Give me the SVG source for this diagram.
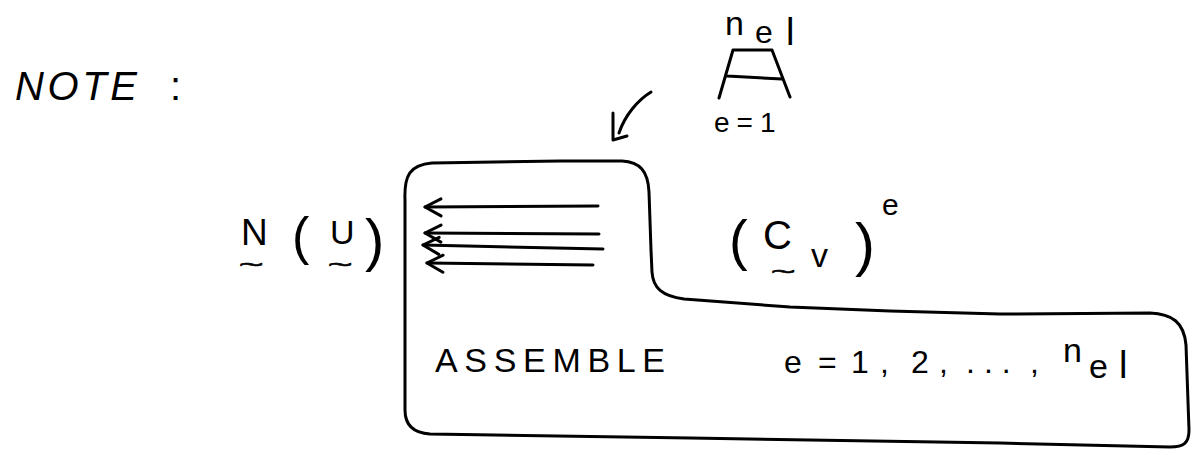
<svg xmlns="http://www.w3.org/2000/svg" width="1201" height="455" viewBox="0 0 1201 455">
<style>
.t{font-family:"Liberation Sans",Arial,sans-serif;fill:#000}
.tl{font-family:"Liberation Sans",Arial,sans-serif;fill:#000;font-size:22px;stroke:#000;stroke-width:0.7}
.ln{fill:none;stroke:#000;stroke-width:3;stroke-linecap:round;stroke-linejoin:round}
</style>
<defs>
<marker id="chev" viewBox="-20 -12 24 24" refX="0" refY="0" markerWidth="24" markerHeight="24" markerUnits="userSpaceOnUse" orient="auto">
<path d="M-16,-9 L0,0 L-16,8" fill="none" stroke="#000" stroke-width="3" stroke-linecap="round" stroke-linejoin="round"/>
</marker>
</defs>
<rect width="1201" height="455" fill="#fff"/>

<g id="note">
<text class="t" x="15" y="100" font-size="40" font-style="italic" textLength="122" lengthAdjust="spacing">NOTE</text>
<text class="t" x="170" y="100" font-size="40">:</text>
</g>

<g id="element-icon">
<text class="t" x="725" y="35" font-size="34">n</text>
<text class="t" x="755" y="43" font-size="32">e</text>
<text class="t" x="786" y="45" font-size="38">l</text>
<path class="ln" d="M733,50 L772,50 M733,50 L719,98 M772,50 L790,97 M727,76 L782,79"/>
<text class="t" x="714" y="132" font-size="28" letter-spacing="7">e=1</text>
</g>

<g id="N-of-U">
<text class="t" x="241" y="245" font-size="37">N</text>
<text class="tl" transform="translate(239,272) scale(1.9,1)">~</text>
<text class="t" x="330" y="244" font-size="34">U</text>
<text class="tl" transform="translate(328,272) scale(1.9,1)">~</text>
<text class="t" x="292" y="254" font-size="52">(</text>
<text class="t" x="365" y="260" font-size="58">)</text>
</g>

<g id="Cv-e">
<text class="t" x="729" y="259" font-size="56">(</text>
<text class="t" x="763" y="249" font-size="40">C</text>
<text class="tl" transform="translate(771,279) scale(1.9,1)">~</text>
<text class="t" x="811" y="267" font-size="34">v</text>
<text class="t" x="855" y="265" font-size="60">)</text>
<text class="t" x="882" y="215" font-size="30">e</text>
</g>

<g id="assemble-box">
<path class="ln" d="M405,200 C404,175 410,165 432,163 L560,161 L622,161 C640,162 648,171 649,192 L651,250 L652,272 C653,288 662,296 684,299 L790,307 L890,311 L1000,314 L1150,313 C1172,314 1184,322 1186,345 L1189,430 C1189,443 1184,447 1170,447 L1000,443 L690,438 L430,434 C413,433 405,425 405,410 Z"/>
<text class="t" x="435" y="372" font-size="34" textLength="230" lengthAdjust="spacing">ASSEMBLE</text>
<text class="t" font-size="32" y="373"><tspan x="784">e</tspan><tspan x="818">=</tspan><tspan x="851">1</tspan><tspan x="880">,</tspan><tspan x="911">2</tspan><tspan x="939">,</tspan><tspan x="966" letter-spacing="9">...</tspan><tspan x="1030">,</tspan></text>
<text class="t" font-size="34"><tspan x="1063" y="362">n</tspan><tspan x="1089" y="378">e</tspan><tspan x="1119" y="378" font-size="38">l</tspan></text>
</g>

<g id="connectors">
<path class="ln" marker-end="url(#chev)" d="M598,206 L425,207"/>
<path class="ln" marker-end="url(#chev)" d="M599,234 L425,233"/>
<path class="ln" marker-end="url(#chev)" d="M603,249 L423,245"/>
<path class="ln" marker-end="url(#chev)" d="M593,265 L427,263"/>
<path class="ln" d="M651,92 C638,100 625,115 619,133"/>
<path class="ln" d="M613,113 L613,140 L627,136"/>
</g>
</svg>
